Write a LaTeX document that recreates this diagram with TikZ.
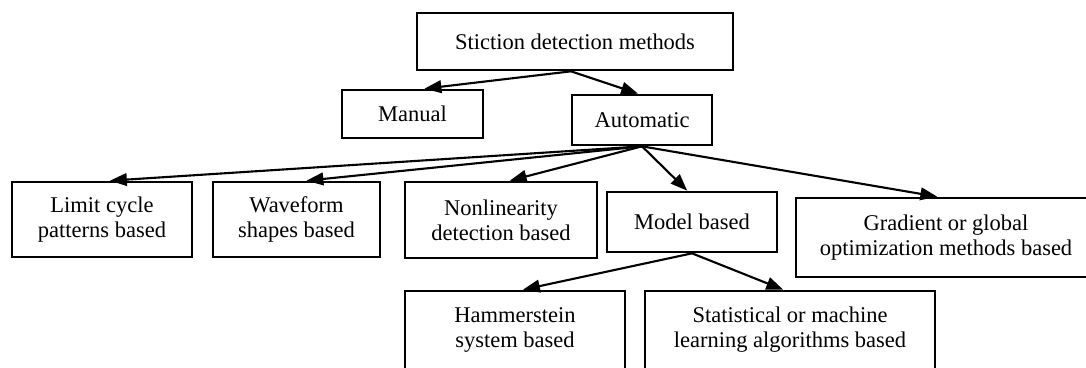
\documentclass[tikz,border=0pt]{standalone}
\usepackage{fontspec}
\setmainfont{Liberation Serif}
\usetikzlibrary{positioning, arrows.meta}

\begin{document}
\begin{tikzpicture}[
		box/.style={draw, line width=1.9pt, align=center, inner sep=0pt, font=\fontsize{16}{17.8}\selectfont},
		link/.style={-{Triangle[length=12pt, width=9pt]}, line width=1.5pt}
	]
			\useasboundingbox (0,0) rectangle (27.15,-9.175);
			
			% Root and first split
			\node (root) at (14.375, -1.0375) [box, minimum width=7.9cm, minimum height=1.425cm] {Stiction detection methods};
			\node (manual) at (10.3125, -2.85) [box, minimum width=3.525cm, minimum height=1.2cm] {Manual};
			\node (auto) at (16.05, -3.0) [box, minimum width=3.5cm, minimum height=1.25cm] {Automatic};
			
			% Automatic methods
			\node (limit) at (2.55, -5.4875) [box, minimum width=4.5cm, minimum height=1.875cm] {Limit cycle\\patterns based};
			\node (wave) at (7.4125, -5.4875) [box, minimum width=4.175cm, minimum height=1.875cm] {Waveform\\shapes based};
			\node (nonlin) at (12.525, -5.5) [box, minimum width=4.8cm, minimum height=1.9cm] {Nonlinearity\\detection based};
			\node (model) at (17.3, -5.55) [box, minimum width=4.25cm, minimum height=1.5cm] {Model based};
			\node (grad) at (23.65, -5.9375) [box, minimum width=7.5cm, minimum height=1.975cm] {Gradient or global\\optimization methods based};
			
			% Model based methods
			\node (hamm) at (12.875, -8.25) [box, minimum width=5.5cm, minimum height=1.95cm] {Hammerstein\\system based};
			\node (stat) at (19.75, -8.25) [box, minimum width=7.25cm, minimum height=1.95cm] {Statistical or machine\\learning algorithms based};
			
			% Arrows
			\draw[link] ([xshift=-0.1cm]root.south) -- ([xshift=0.3cm]manual.north);
			\draw[link] ([xshift=-0.1cm]root.south) -- ([xshift=-0.1cm]auto.north);
			\foreach \dst/\dx in {limit/0.2, wave/0.25, nonlin/0.22, model/-0.12, grad/-0.22}
				\draw[link] (auto.south) -- ([xshift=\dx cm]\dst.north);
			\draw[link] (model.south) -- ([xshift=0.2cm]hamm.north);
			\draw[link] (model.south) -- ([xshift=-0.17cm]stat.north);
\end{tikzpicture}
\end{document}
